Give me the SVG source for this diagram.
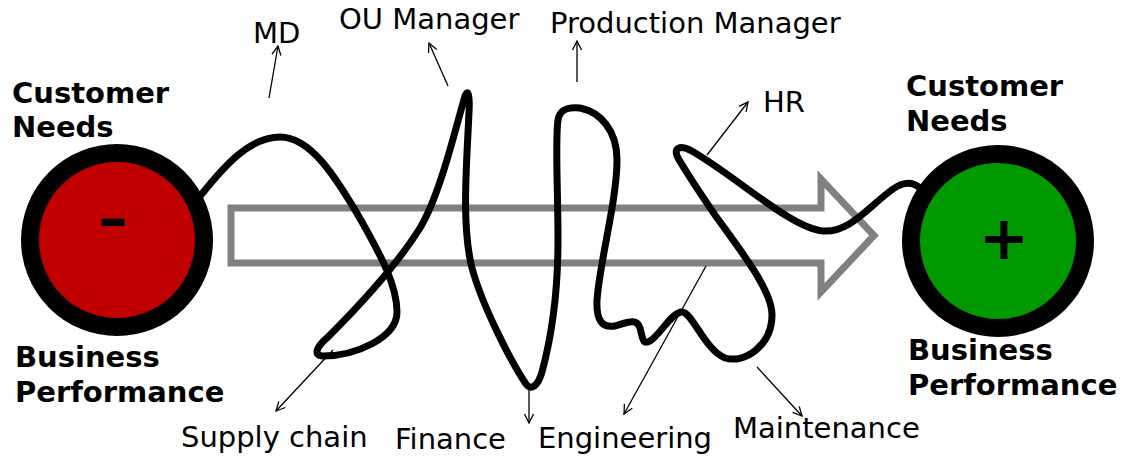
<svg xmlns="http://www.w3.org/2000/svg" width="1122" height="458" viewBox="0 0 1122 458">
<defs>
<style>
.lbl{font-family:"DejaVu Sans","Liberation Sans",sans-serif;font-size:29px;fill:#000}
.bold{font-family:"DejaVu Sans","Liberation Sans",sans-serif;font-size:29px;font-weight:bold;fill:#000}
.sign{font-family:"DejaVu Sans","Liberation Sans",sans-serif;font-size:60px;font-weight:bold;fill:#000;text-anchor:middle}
.thin{fill:none;stroke:#000;stroke-width:1.3;marker-end:url(#ah)}
.ring{stroke:#000;stroke-width:18}
</style>
<marker id="ah" viewBox="-11 -6 12 12" refX="0" refY="0" markerWidth="12" markerHeight="12" markerUnits="userSpaceOnUse" orient="auto">
<path d="M-9,-4.5 L0,0 L-9,4.5" fill="none" stroke="#000" stroke-width="1.3"/>
</marker>
</defs>
<rect width="1122" height="458" fill="#fff"/>

<g id="flow-arrow">
<path d="M231,208 L821,208 L821,179 L874,235.5 L821,292 L821,263 L231,263 Z" fill="none" stroke="#808080" stroke-width="7"/>
</g>

<g id="node-start">
<circle class="ring" cx="117" cy="240" r="87" fill="#c00000"/>
<text class="sign" x="113" y="240" transform="translate(113,221) scale(1.25,0.85) translate(-113,-221)">-</text>
<text class="bold" x="12" y="103">Customer</text>
<text class="bold" x="12" y="137">Needs</text>
<text class="bold" x="15" y="367">Business</text>
<text class="bold" x="15" y="402">Performance</text>
</g>

<g id="node-end">
<circle class="ring" cx="998" cy="241" r="87" fill="#009a00"/>
<text class="sign" x="1004" y="259">+</text>
<text class="bold" x="906" y="96">Customer</text>
<text class="bold" x="906" y="131">Needs</text>
<text class="bold" x="908" y="360">Business</text>
<text class="bold" x="908" y="395">Performance</text>
</g>

<g id="connectors">
<path id="squiggle" fill="none" stroke="#000" stroke-width="7" stroke-linecap="round" stroke-linejoin="round" d="M201,195 C225,165 250,137 280,137 C310,137 335,175 362,222 C380,254 397,285 397,312 C397,338 355,356 323,356 C313,356 316,347 328,337 C355,310 395,268 420,228 C440,195 455,130 465,96 C468,88 470,96 469,112 C467,160 461,225 472,268 C482,305 510,360 526,384 C531,391 538,386 542,372 C552,335 558,290 558,240 C558,190 555,140 558,120 C560,108 570,107 580,108 C600,112 617,130 617,160 C617,200 600,260 597,300 C596,322 603,328 615,326 C628,322 637,318 640,328 C643,340 643,345 650,341 C660,335 672,312 682,312 C692,312 705,350 725,358 C745,364 772,345 772,315 C772,290 740,250 715,215 C700,193 685,170 678,158 C673,148 680,145 690,150 C735,175 790,228 823,231 C850,233 870,205 893,189 C903,182 912,181 920,188"/>
<line class="thin" x1="269" y1="98" x2="278" y2="46"/>
<line class="thin" x1="448" y1="86" x2="429" y2="43"/>
<line class="thin" x1="577" y1="82" x2="577" y2="41"/>
<line class="thin" x1="707" y1="155" x2="748" y2="102"/>
<line class="thin" x1="757" y1="367" x2="802" y2="416"/>
<line class="thin" x1="706" y1="266" x2="624" y2="414"/>
<line class="thin" x1="529" y1="387" x2="529" y2="423"/>
<line class="thin" x1="333" y1="350" x2="276" y2="411"/>
</g>

<g id="labels">
<text class="lbl" x="253" y="43">MD</text>
<text class="lbl" x="339" y="29">OU Manager</text>
<text class="lbl" x="550" y="33">Production Manager</text>
<text class="lbl" x="763" y="112">HR</text>
<text class="lbl" x="181" y="447">Supply chain</text>
<text class="lbl" x="395" y="449">Finance</text>
<text class="lbl" x="538" y="448">Engineering</text>
<text class="lbl" x="733" y="438">Maintenance</text>
</g>
</svg>
